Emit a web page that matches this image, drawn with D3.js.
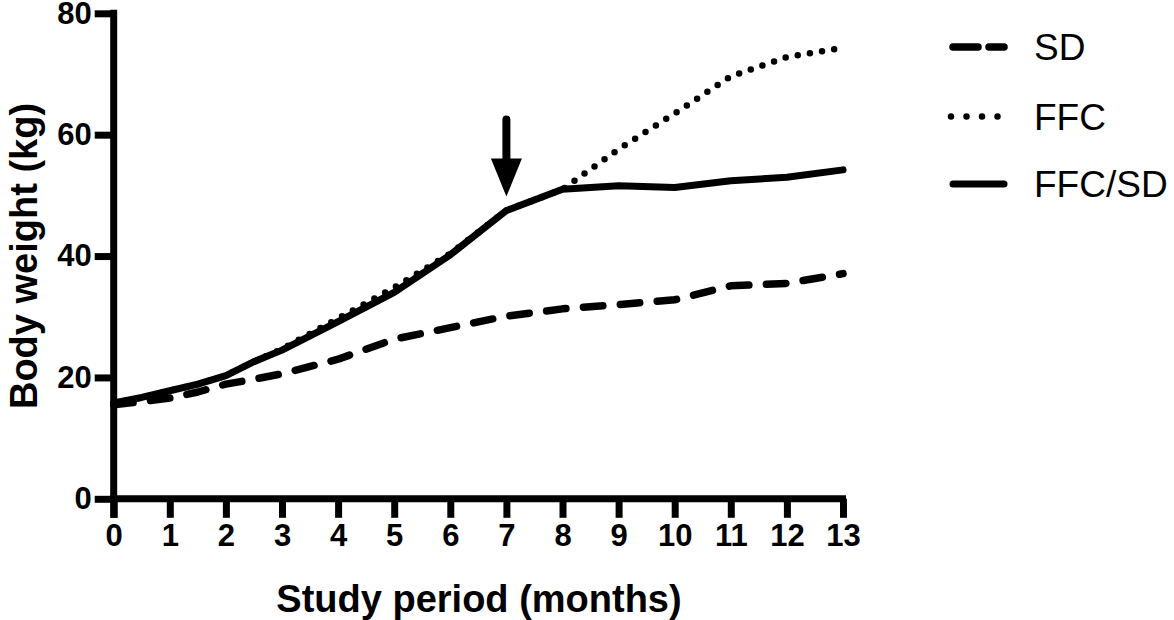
<!DOCTYPE html>
<html>
<head>
<meta charset="utf-8">
<script src="https://cdn.jsdelivr.net/npm/d3@7"></script>
<style>
  html, body { margin: 0; padding: 0; background: #fff; }
  svg { display: block; font-family: "Liberation Sans", Arial, Helvetica, sans-serif; }
</style>
</head>
<body>
<svg id="chart" width="1174" height="620"></svg>
<script>
// ---- data ----
const months = [0, 0.5, 1, 1.5, 2, 2.5, 3, 4, 5, 6, 7, 8, 9, 10, 11, 12, 13];
const sd     = [15.5, 16.0, 16.6, 17.6, 18.9, 19.7, 20.6, 23.0, 26.3, 28.2, 30.1, 31.3, 32.0, 32.8, 35.1, 35.5, 37.1];
const ffc    = [15.8, 16.7, 17.8, 18.9, 20.3, 22.6, 24.7, 29.7, 34.8, 40.4, 47.5, 51.0, 57.6, 63.5, 69.6, 72.8, 74.3];
const ffcSd  = [15.8, 16.7, 17.8, 18.9, 20.3, 22.6, 24.5, 29.2, 34.0, 40.2, 47.5, 51.0, 51.6, 51.3, 52.4, 53.0, 54.2];
const seriesNames = ["SD", "FFC", "FFC/SD"];
const xTicks = [0,1,2,3,4,5,6,7,8,9,10,11,12,13];
const yTicks = [0, 20, 40, 60, 80];
const xTitle = "Study period (months)";
const yTitle = "Body weight (kg)";
const arrowMonth = 7, arrowFrom = 62.5, arrowTo = 49.8;

// ---- layout ----
const svg = d3.select("#chart");
const x = d3.scaleLinear().domain([0, 13]).range([113.7, 843]);
const y = d3.scaleLinear().domain([0, 80]).range([498.8, 13.3]);
const AXW = 7;

const styles = {
  "SD":     { dash: "19.5 17.5", width: 7.5 },
  "FFC":    { dash: "0 12.3",    width: 6.5 },
  "FFC/SD": { dash: null,        width: 7 }
};
const values = { "SD": sd, "FFC": ffc, "FFC/SD": ffcSd };

// ---- axes ----
const xAxis = d3.axisBottom(x).tickValues(xTicks).tickSize(19).tickPadding(6).tickSizeOuter(0);
const gx = svg.append("g").attr("transform", `translate(0,${y(0)})`).call(xAxis);
gx.select(".domain").attr("stroke", "#000").attr("stroke-width", AXW)
  .attr("d", `M${x(0) - AXW/2},0H${x(13) + 3}`);
gx.selectAll(".tick line").attr("stroke", "#000").attr("stroke-width", AXW);
gx.selectAll(".tick text").attr("fill", "#000").attr("font-size", 31).attr("font-weight", "bold");

const yAxis = d3.axisLeft(y).tickValues(yTicks).tickSize(19).tickPadding(3).tickSizeOuter(0);
const gy = svg.append("g").attr("transform", `translate(${x(0)},0)`).call(yAxis);
gy.select(".domain").attr("stroke", "#000").attr("stroke-width", AXW)
  .attr("d", `M0,${y(80) - AXW/2}V${y(0) + 19}`);
gy.selectAll(".tick line").attr("stroke", "#000").attr("stroke-width", AXW);
gy.selectAll(".tick text").attr("fill", "#000").attr("font-size", 31).attr("font-weight", "bold");

// axis titles
svg.append("text").attr("x", 479).attr("y", 612).attr("text-anchor", "middle")
  .attr("font-size", 38).attr("font-weight", "bold").attr("fill", "#000").text(xTitle);
svg.append("text").attr("transform", `translate(37,256) rotate(-90)`).attr("text-anchor", "middle")
  .attr("font-size", 38).attr("font-weight", "bold").attr("fill", "#000").text(yTitle);

// ---- lines ----
const line = d3.line().x((d, i) => x(months[i])).y(d => y(d));
["SD", "FFC", "FFC/SD"].forEach(name => {
  const s = styles[name];
  svg.append("path").datum(values[name])
    .attr("d", line)
    .attr("fill", "none").attr("stroke", "#000")
    .attr("stroke-width", s.width)
    .attr("stroke-linecap", "round").attr("stroke-linejoin", "round")
    .attr("stroke-dasharray", s.dash);
});

// ---- arrow annotation ----
const ax = x(arrowMonth), ay0 = y(arrowFrom), ay1 = y(arrowTo);
const headLen = 38, headW = 31;
svg.append("line").attr("x1", ax).attr("x2", ax).attr("y1", ay0).attr("y2", ay1 - headLen + 2)
  .attr("stroke", "#000").attr("stroke-width", 8).attr("stroke-linecap", "round");
svg.append("path")
  .attr("d", `M${ax - headW/2},${ay1 - headLen}L${ax + headW/2},${ay1 - headLen}L${ax},${ay1}Z`)
  .attr("fill", "#000");

// ---- legend ----
const legY = [47, 116.5, 184];
const lg = svg.append("g");
seriesNames.forEach((name, i) => {
  const s = styles[name];
  const ly = legY[i];
  if (name === "SD") {
    lg.append("line").attr("x1", 953).attr("x2", 978).attr("y1", ly).attr("y2", ly)
      .attr("stroke", "#000").attr("stroke-width", s.width).attr("stroke-linecap", "round");
    lg.append("line").attr("x1", 989).attr("x2", 1004).attr("y1", ly).attr("y2", ly)
      .attr("stroke", "#000").attr("stroke-width", s.width).attr("stroke-linecap", "round");
  } else if (name === "FFC") {
    lg.append("line").attr("x1", 951).attr("x2", 1000).attr("y1", ly).attr("y2", ly)
      .attr("stroke", "#000").attr("stroke-width", s.width).attr("stroke-linecap", "round")
      .attr("stroke-dasharray", "0 15.5");
  } else {
    lg.append("line").attr("x1", 953).attr("x2", 1004).attr("y1", ly).attr("y2", ly)
      .attr("stroke", "#000").attr("stroke-width", s.width).attr("stroke-linecap", "round");
  }
  lg.append("text").attr("x", 1034).attr("y", ly + 13).attr("font-size", 37)
    .attr("fill", "#000").text(name);
});
</script>
</body>
</html>
